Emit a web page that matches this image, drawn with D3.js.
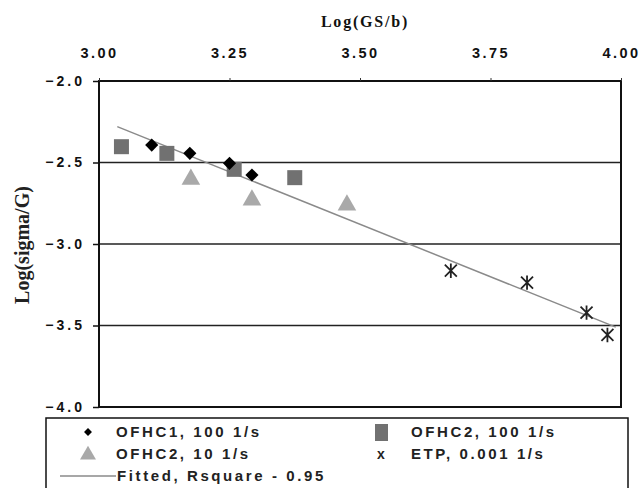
<!DOCTYPE html>
<html><head><meta charset="utf-8">
<script src="https://cdn.jsdelivr.net/npm/d3@7"></script>
<style>
html,body{margin:0;padding:0;background:#fff;}
svg{display:block;}
.tick text{font-family:"Liberation Sans",Arial,sans-serif;font-weight:bold;}
</style></head>
<body>
<svg id="chart" width="640" height="488"></svg>
<script>
// ---- data ----
const xTicks = [3.00, 3.25, 3.50, 3.75, 4.00];
const yTicks = [-2.0, -2.5, -3.0, -3.5, -4.0];
const ofhc1_100 = [[3.101,-2.393],[3.174,-2.444],[3.250,-2.505],[3.293,-2.577]];
const ofhc2_100 = [[3.043,-2.403],[3.130,-2.444],[3.259,-2.542],[3.375,-2.593]];
const ofhc2_10  = [[3.176,-2.597],[3.293,-2.724],[3.475,-2.755]];
const etp_0001  = [[3.674,-3.164],[3.820,-3.237],[3.934,-3.421],[3.974,-3.558]];
const fitted    = [[3.035,-2.28],[3.99,-3.51]];
const legendLabels = ["OFHC1, 100 1/s","OFHC2, 100 1/s","OFHC2, 10 1/s","ETP, 0.001 1/s","Fitted, Rsquare - 0.95"];

// ---- layout ----
const svg = d3.select("#chart");
const L=99, R=621, T=81, B=407;
const x = d3.scaleLinear().domain([3,4]).range([L,R]);
const y = d3.scaleLinear().domain([-2,-4]).range([T,B]);

// horizontal gridlines
svg.append("g").selectAll("line").data([-2.5,-3.0,-3.5]).join("line")
  .attr("x1",L).attr("x2",R).attr("y1",d=>y(d)).attr("y2",d=>y(d))
  .attr("stroke","#222").attr("stroke-width",1.5);

// frame
svg.append("rect").attr("x",L).attr("y",T).attr("width",R-L).attr("height",B-T)
  .attr("fill","none").attr("stroke","#111").attr("stroke-width",2);

// top axis
const xa = svg.append("g").attr("transform",`translate(0,${T})`)
  .call(d3.axisTop(x).tickValues(xTicks).tickFormat(d3.format(".2f")).tickSize(3).tickPadding(20));
xa.select(".domain").remove();
xa.selectAll(".tick line").attr("stroke","#333");
xa.selectAll(".tick text").attr("font-size",14.5).attr("letter-spacing","2.4px").attr("fill","#111");

// left axis
const ya = svg.append("g").attr("transform",`translate(${L},0)`)
  .call(d3.axisLeft(y).tickValues(yTicks).tickFormat(d3.format(".1f")).tickSize(6).tickPadding(8));
ya.select(".domain").remove();
ya.selectAll(".tick line").attr("stroke","#111").attr("stroke-width",1.5);
ya.selectAll(".tick text").attr("font-size",14).attr("letter-spacing","3px").attr("fill","#111");

// titles
svg.append("text").attr("x",365).attr("y",27).attr("text-anchor","middle")
  .attr("font-family","'Liberation Serif','Times New Roman',serif").attr("font-weight","bold")
  .attr("font-size",16).attr("letter-spacing","1.8px").attr("fill","#111").text("Log(GS/b)");
svg.append("text").attr("transform",`translate(29,245) rotate(-90)`).attr("text-anchor","middle")
  .attr("font-family","'Liberation Serif','Times New Roman',serif").attr("font-weight","bold")
  .attr("font-size",20).attr("fill","#222").text("Log(sigma/G)");

// fitted line
const line = d3.line().x(d=>x(d[0])).y(d=>y(d[1]));
svg.append("path").datum(fitted).attr("d",line).attr("fill","none")
  .attr("stroke","#8a8a8a").attr("stroke-width",1.5);

// markers
const diamond = d3.symbol().type(d3.symbolDiamond2).size(110);
const square = d3.symbol().type(d3.symbolSquare).size(225);
const tri = d3.symbol().type(d3.symbolTriangle).size(150);
function star(g, s){
  g.append("path").attr("d",`M${-s},${-s}L${s},${s}M${s},${-s}L${-s},${s}M0,${-s*1.2}L0,${s*1.2}`)
   .attr("stroke","#222").attr("stroke-width",1.8).attr("fill","none");
}
svg.append("g").selectAll("path").data(ofhc2_100).join("path")
  .attr("transform",d=>`translate(${x(d[0])},${y(d[1])})`).attr("d",square).attr("fill","#717171");
svg.append("g").selectAll("path").data(ofhc1_100).join("path")
  .attr("transform",d=>`translate(${x(d[0])},${y(d[1])})`).attr("d",diamond).attr("fill","#000");
svg.append("g").selectAll("path").data(ofhc2_10).join("path")
  .attr("transform",d=>`translate(${x(d[0])},${y(d[1])+1})`).attr("d",tri).attr("fill","#a9a9a9");
svg.append("g").selectAll("g").data(etp_0001).join("g")
  .attr("transform",d=>`translate(${x(d[0])},${y(d[1])})`).each(function(){star(d3.select(this),6);});

// legend
const lg = svg.append("g");
lg.append("rect").attr("x",46).attr("y",418).attr("width",582).attr("height",90)
  .attr("fill","#fff").attr("stroke","#111").attr("stroke-width",1.5);
const rows=[432,454,476];
const txt = (tx,ty,s)=>lg.append("text").attr("x",tx).attr("y",ty).attr("dy","0.35em")
  .attr("font-family","'Liberation Sans',Arial,sans-serif").attr("font-weight","bold")
  .attr("font-size",15).attr("letter-spacing","2.6px").attr("fill","#222").text(s);
lg.append("path").attr("transform",`translate(88,${rows[0]})`).attr("d",d3.symbol().type(d3.symbolDiamond2).size(40)).attr("fill","#000");
txt(116,rows[0],legendLabels[0]);
lg.append("rect").attr("x",375).attr("y",rows[0]-8).attr("width",13).attr("height",17).attr("fill","#717171");
txt(411,rows[0],legendLabels[1]);
lg.append("path").attr("transform",`translate(88,${rows[1]+1})`).attr("d",d3.symbol().type(d3.symbolTriangle).size(110)).attr("fill","#a9a9a9");
txt(116,rows[1],legendLabels[2]);
lg.append("text").attr("x",381).attr("y",rows[1]).attr("dy","0.35em").attr("text-anchor","middle")
  .attr("font-family","'Liberation Sans',Arial,sans-serif").attr("font-weight","bold").attr("font-size",14).attr("fill","#222").text("x");
txt(411,rows[1],legendLabels[3]);
lg.append("line").attr("x1",60).attr("x2",116).attr("y1",rows[2]).attr("y2",rows[2]).attr("stroke","#8a8a8a").attr("stroke-width",1.6);
txt(117,rows[2],legendLabels[4]);
</script>
</body></html>
